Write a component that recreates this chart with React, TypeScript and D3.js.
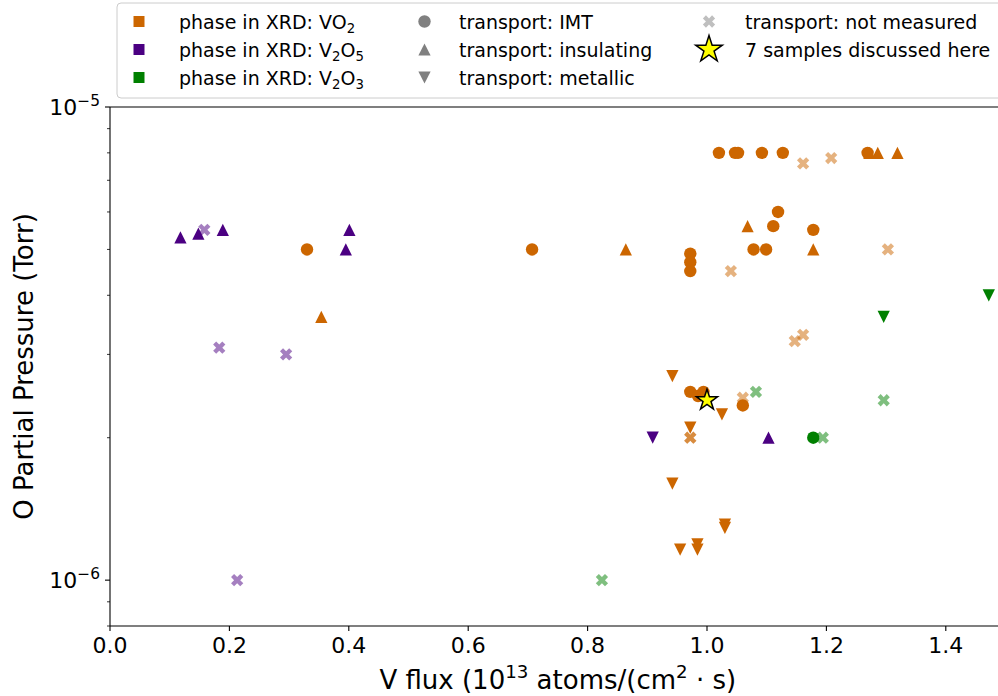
import React from 'react';
import * as d3 from 'd3';

// ---------------- DATA (V flux in 1e13 atoms/(cm^2 s), O pressure in 1e-6 Torr) ----------------
const vo2Imt: [number, number][] = [
  [0.330, 5.0], [0.707, 5.0], [1.020, 8.0], [1.047, 8.0], [1.052, 8.0], [1.092, 8.0],
  [1.127, 8.0], [1.269, 8.0], [1.119, 6.0], [1.111, 5.6], [1.178, 5.5], [0.972, 4.9],
  [0.972, 4.7], [0.972, 4.5], [1.078, 5.0], [1.099, 5.0], [0.972, 2.5], [0.985, 2.45],
  [0.994, 2.5], [1.060, 2.34],
];
const vo2Insulating: [number, number][] = [
  [0.354, 3.6], [1.068, 5.6], [0.864, 5.0], [1.178, 5.0], [1.272, 8.0], [1.286, 8.0], [1.319, 8.0],
];
const vo2Metallic: [number, number][] = [
  [0.942, 2.7], [1.025, 2.24], [0.972, 2.1], [0.942, 1.6], [1.030, 1.31], [1.030, 1.29],
  [0.955, 1.16], [0.984, 1.19], [0.984, 1.16],
];
const vo2NotMeasured: [number, number][] = [
  [1.040, 4.5], [1.161, 7.6], [1.208, 7.8], [1.303, 5.0], [1.161, 3.3], [1.147, 3.2],
  [1.060, 2.43], [0.972, 2.0], [0.972, 2.0],
];
const v2o5Insulating: [number, number][] = [
  [0.118, 5.3], [0.148, 5.4], [0.189, 5.5], [0.401, 5.5], [0.395, 5.0], [1.103, 2.0],
];
const v2o5Metallic: [number, number][] = [[0.909, 2.0]];
const v2o5NotMeasured: [number, number][] = [
  [0.158, 5.5], [0.183, 3.1], [0.295, 3.0], [0.213, 1.0],
];
const v2o3Imt: [number, number][] = [[1.178, 2.0]];
const v2o3Metallic: [number, number][] = [[1.472, 4.0], [1.296, 3.6]];
const v2o3NotMeasured: [number, number][] = [
  [0.824, 1.0], [1.082, 2.5], [1.296, 2.4], [1.194, 2.0],
];
const discussed: [number, number][] = [[1.0, 2.4]];

const xTicks = [0, 0.2, 0.4, 0.6, 0.8, 1.0, 1.2, 1.4];
const yMajorTicks = [1e-6, 1e-5];
const yMinorTicks = [8e-7, 9e-7, 2e-6, 3e-6, 4e-6, 5e-6, 6e-6, 7e-6, 8e-6, 9e-6];

const phaseLabels = [
  [{ t: 'phase in XRD: VO' }, { t: '2', sub: true }],
  [{ t: 'phase in XRD: V' }, { t: '2', sub: true }, { t: 'O' }, { t: '5', sub: true }],
  [{ t: 'phase in XRD: V' }, { t: '2', sub: true }, { t: 'O' }, { t: '3', sub: true }],
];
const transportLabels = ['transport: IMT', 'transport: insulating', 'transport: metallic'];
const extraLabels = ['transport: not measured', '7 samples discussed here'];

// ---------------- STYLE ----------------
const ORANGE = '#cc6600';
const PURPLE = '#4b0082';
const GREEN = '#008000';
const GRAY = '#808080';
const FONT = "'DejaVu Sans', sans-serif";

// custom marker shapes (matplotlib-like)
const triUp = {
  draw(ctx: any, size: number) {
    const r = Math.sqrt(size) / 2;
    ctx.moveTo(0, -r); ctx.lineTo(r, r); ctx.lineTo(-r, r); ctx.closePath();
  },
};
const triDown = {
  draw(ctx: any, size: number) {
    const r = Math.sqrt(size) / 2;
    ctx.moveTo(0, r); ctx.lineTo(r, -r); ctx.lineTo(-r, -r); ctx.closePath();
  },
};
const xFilled = {
  draw(ctx: any, size: number) {
    const s = Math.sqrt(size) / 6;
    const pts = [[-1, -3], [1, -3], [1, -1], [3, -1], [3, 1], [1, 1], [1, 3], [-1, 3], [-1, 1], [-3, 1], [-3, -1], [-1, -1]];
    const c = Math.SQRT1_2;
    pts.forEach(([a, b], i) => {
      const px = (a * c - b * c) * s, py = (a * c + b * c) * s;
      if (i === 0) ctx.moveTo(px, py); else ctx.lineTo(px, py);
    });
    ctx.closePath();
  },
};

const MARK: Record<string, { type: any; size: number }> = {
  circle: { type: d3.symbolCircle, size: Math.PI * 6.2 * 6.2 },
  up: { type: triUp, size: 150 },
  down: { type: triDown, size: 150 },
  x: { type: xFilled, size: 13 * 13 },
  square: { type: d3.symbolSquare, size: 121 },
};

const series = [
  { data: vo2NotMeasured, color: ORANGE, mk: 'x', alpha: 0.5 },
  { data: v2o5NotMeasured, color: PURPLE, mk: 'x', alpha: 0.5 },
  { data: v2o3NotMeasured, color: GREEN, mk: 'x', alpha: 0.5 },
  { data: vo2Imt, color: ORANGE, mk: 'circle', alpha: 1 },
  { data: vo2Insulating, color: ORANGE, mk: 'up', alpha: 1 },
  { data: vo2Metallic, color: ORANGE, mk: 'down', alpha: 1 },
  { data: v2o5Insulating, color: PURPLE, mk: 'up', alpha: 1 },
  { data: v2o5Metallic, color: PURPLE, mk: 'down', alpha: 1 },
  { data: v2o3Imt, color: GREEN, mk: 'circle', alpha: 1 },
  { data: v2o3Metallic, color: GREEN, mk: 'down', alpha: 1 },
];

function symPath(mk: string) {
  return d3.symbol().type(MARK[mk].type).size(MARK[mk].size)() as string;
}

function RichText({ parts, x, y, size, anchor }: any) {
  let prev = false;
  return (
    <text x={x} y={y} fontSize={size} textAnchor={anchor || 'start'} fontFamily={FONT} fill="#000">
      {parts.map((p: any, i: number) => {
        let dy = 0;
        if (p.sub && !prev) dy = size * 0.22;
        else if (!p.sub && prev) dy = -size * 0.22;
        if (p.sup && !prev) dy = -size * 0.42;
        prev = !!(p.sub || p.sup);
        if (!p.sub && !p.sup && i > 0 && (parts[i - 1].sup)) dy = size * 0.42;
        return (
          <tspan key={i} dy={dy} fontSize={p.sub || p.sup ? size * 0.7 : size}>{p.t}</tspan>
        );
      })}
    </text>
  );
}

export default function App() {
  const left = 110, right = 110 + 1.5 * 597, top = 107, bottom = 626;
  const x = d3.scaleLinear().domain([0, 1.5]).range([left, right]);
  const y = d3.scaleLog().domain([8e-7, 1e-5]).range([bottom, top]);
  const fmt = d3.format('.1f');
  const starPath = (r: number) => d3.symbol().type(d3.symbolStar).size((r * r) / 0.8908130915292852)() as string;

  const TICK = 22;
  const LEG = 19;
  const rows = [21.5, 49.5, 77.5];

  return (
    <svg width={998} height={696} style={{ position: 'absolute', left: 0, top: 0, background: '#fff' }} fontFamily={FONT}>
      <rect x={0} y={0} width={998} height={696} fill="#fff" />
      {/* markers */}
      <g>
        {series.map((s, si) => (
          <g key={si} fill={s.color} fillOpacity={s.alpha}>
            {s.data.map((d, i) => (
              <path key={i} d={symPath(s.mk)} transform={`translate(${x(d[0])},${y(d[1] * 1e-6)})`} />
            ))}
          </g>
        ))}
        {discussed.map((d, i) => (
          <path key={i} d={starPath(11)} transform={`translate(${x(d[0])},${y(d[1] * 1e-6)})`}
            fill="#ffff00" stroke="#000" strokeWidth={1.5} strokeLinejoin="miter" />
        ))}
      </g>
      {/* spines */}
      <g stroke="#000" strokeWidth={1.1} fill="none">
        <line x1={left} x2={left} y1={top} y2={bottom} />
        <line x1={left} x2={right} y1={bottom} y2={bottom} />
        <line x1={left} x2={right} y1={top} y2={top} />
        <line x1={right} x2={right} y1={top} y2={bottom} />
      </g>
      {/* x ticks */}
      <g>
        {xTicks.map((t) => (
          <g key={t} transform={`translate(${x(t)},${bottom})`}>
            <line y1={0} y2={5} stroke="#000" strokeWidth={1.1} />
            <text y={27} textAnchor="middle" fontSize={TICK}>{fmt(t)}</text>
          </g>
        ))}
      </g>
      {/* y ticks */}
      <g>
        {yMinorTicks.map((t) => (
          <line key={t} x1={left - 3} x2={left} y1={y(t)} y2={y(t)} stroke="#000" strokeWidth={0.8} />
        ))}
        {yMajorTicks.map((t) => (
          <g key={t} transform={`translate(${left},${y(t)})`}>
            <line x1={-5} x2={0} stroke="#000" strokeWidth={1.1} />
            <RichText x={-10} y={8} size={TICK} anchor="end"
              parts={[{ t: '10' }, { t: '\u2212' + Math.abs(Math.round(Math.log10(t))), sup: true }]} />
          </g>
        ))}
      </g>
      {/* axis labels */}
      <RichText x={(left + right) / 2} y={689} size={26} anchor="middle"
        parts={[{ t: 'V flux (10' }, { t: '13', sup: true }, { t: ' atoms/(cm' }, { t: '2', sup: true }, { t: ' \u00B7 s)' }]} />
      <text transform={`translate(33,${(top + bottom) / 2}) rotate(-90)`} textAnchor="middle" fontSize={26}>
        O Partial Pressure (Torr)
      </text>
      {/* legend */}
      <g>
        <rect x={117} y={3} width={900} height={95} rx={4} fill="#fff" fillOpacity={0.8} stroke="#cccccc" strokeWidth={1} />
        {phaseLabels.map((p, i) => (
          <g key={i}>
            <path d={symPath('square')} transform={`translate(139,${rows[i]})`} fill={[ORANGE, PURPLE, GREEN][i]} />
            <RichText x={179} y={rows[i] + 7} size={LEG} parts={p} />
          </g>
        ))}
        {transportLabels.map((t, i) => (
          <g key={t}>
            <path d={symPath(['circle', 'up', 'down'][i])} transform={`translate(424.5,${rows[i]})`} fill={GRAY} />
            <text x={459} y={rows[i] + 7} fontSize={LEG}>{t}</text>
          </g>
        ))}
        <path d={symPath('x')} transform={`translate(709,${rows[0]})`} fill={GRAY} fillOpacity={0.5} />
        <text x={745} y={rows[0] + 7} fontSize={LEG}>{extraLabels[0]}</text>
        <path d={starPath(14)} transform={`translate(709,${rows[1]})`} fill="#ffff00" stroke="#000" strokeWidth={1.5} />
        <text x={745} y={rows[1] + 7} fontSize={LEG}>{extraLabels[1]}</text>
      </g>
    </svg>
  );
}
